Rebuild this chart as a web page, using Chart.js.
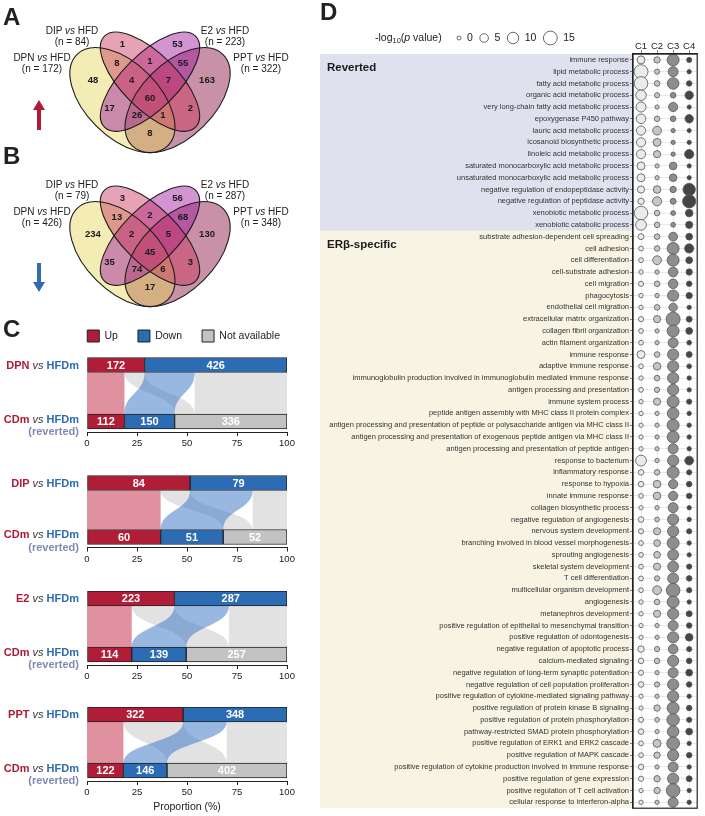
<!DOCTYPE html>
<html>
<head>
<meta charset="utf-8">
<script src="https://cdn.jsdelivr.net/npm/chart.js@4.4.1/dist/chart.umd.min.js"></script>
<style>
  body { margin: 0; background: #fff; font-family: 'Liberation Sans', Arial, sans-serif; color: #222; }
  #page { position: relative; width: 705px; height: 816px; overflow: hidden; }
  #page canvas, .t { position: absolute; }
  .letter { font-weight: bold; font-size: 24px; line-height: 24px; }
  .vt { font-size: 10px; line-height: 11px; text-align: center; width: 120px; white-space: nowrap; }
  .gl { left: 0; width: 79px; text-align: right; font-size: 11px; line-height: 13px; font-weight: bold; white-space: nowrap; }
  .red { color: #b01a36; }
  .blue { color: #2c6cb3; }
  .vs { font-style: italic; font-weight: normal; color: #333; }
  .rev { color: #8089b3; }
</style>
</head>
<body>
<div id="page">
  <canvas id="vennA" width="320" height="160" style="left:0;top:0"></canvas>
  <canvas id="vennB" width="320" height="160" style="left:0;top:154px"></canvas>
  <canvas id="bubble" width="385" height="816" style="left:320px;top:0"></canvas>
  <div class="t letter" style="left:3px;top:5px">A</div>
  <div class="t letter" style="left:3px;top:144px">B</div>
  <div class="t letter" style="left:3px;top:317px">C</div>
  <div class="t letter" style="left:320px;top:0">D</div>
</div>
<script>
// A / B: overlap of up- and down-regulated genes
const vennSets = ['DPN', 'DIP', 'E2', 'PPT'];
const vennUpTotals = [172, 84, 223, 322];
const vennDownTotals = [426, 79, 287, 348];
const vennRegions = ['DIP', 'E2', 'DPN', 'DPN&DIP', 'DIP&E2', 'E2&PPT', 'PPT', 'DPN&DIP&E2',
  'DIP&E2&PPT', 'DPN&DIP&E2&PPT', 'DPN&E2', 'DPN&E2&PPT', 'DPN&DIP&PPT', 'DIP&PPT', 'DPN&PPT'];
const vennUp = [1, 53, 48, 8, 1, 55, 163, 4, 7, 60, 17, 26, 1, 2, 8];
const vennDown = [3, 56, 234, 13, 2, 68, 130, 2, 5, 45, 35, 74, 6, 3, 17];

// C: reverted genes per treatment
const groupNames = ['DPN', 'DIP', 'E2', 'PPT'];
const upCounts = [172, 84, 223, 322];
const downCounts = [426, 79, 287, 348];
const revUpCounts = [112, 60, 114, 122];
const revDownCounts = [150, 51, 139, 146];
const naCounts = [336, 52, 257, 402];
const propTicks = [0, 25, 50, 75, 100];

// D: GO terms, -log10(p value) per cluster
const revTerms = ['immune response', 'lipid metabolic process', 'fatty acid metabolic process',
  'organic acid metabolic process', 'very long-chain fatty acid metabolic process', 'epoxygenase P450 pathway',
  'lauric acid metabolic process', 'icosanoid biosynthetic process', 'linoleic acid metabolic process',
  'saturated monocarboxylic acid metabolic process', 'unsaturated monocarboxylic acid metabolic process',
  'negative regulation of endopeptidase activity', 'negative regulation of peptidase activity',
  'xenobiotic metabolic process', 'xenobiotic catabolic process'];
const erbTerms = ['substrate adhesion-dependent cell spreading', 'cell adhesion', 'cell differentiation',
  'cell-substrate adhesion', 'cell migration', 'phagocytosis', 'endothelial cell migration',
  'extracellular matrix organization', 'collagen fibril organization', 'actin filament organization',
  'immune response', 'adaptive immune response',
  'immunoglobulin production involved in immunoglobulin mediated immune response',
  'antigen processing and presentation', 'immune system process',
  'peptide antigen assembly with MHC class II protein complex',
  'antigen processing and presentation of peptide or polysaccharide antigen via MHC class II',
  'antigen processing and presentation of exogenous peptide antigen via MHC class II',
  'antigen processing and presentation of peptide antigen', 'response to bacterium', 'inflammatory response',
  'response to hypoxia', 'innate immune response', 'collagen biosynthetic process',
  'negative regulation of angiogenesis', 'nervous system development',
  'branching involved in blood vessel morphogenesis', 'sprouting angiogenesis', 'skeletal system development',
  'T cell differentiation', 'multicellular organism development', 'angiogenesis', 'metanephros development',
  'positive regulation of epithelial to mesenchymal transition', 'positive regulation of odontogenesis',
  'negative regulation of apoptotic process', 'calcium-mediated signaling',
  'negative regulation of long-term synaptic potentiation', 'negative regulation of cell population proliferation',
  'positive regulation of cytokine-mediated signaling pathway', 'positive regulation of protein kinase B signaling',
  'positive regulation of protein phosphorylation', 'pathway-restricted SMAD protein phosphorylation',
  'positive regulation of ERK1 and ERK2 cascade', 'positive regulation of MAPK cascade',
  'positive regulation of cytokine production involved in immune response',
  'positive regulation of gene expression', 'positive regulation of T cell activation',
  'cellular response to interferon-alpha'];
const clusterNames = ['C1', 'C2', 'C3', 'C4'];
const logpC1 = [4.1, 15.5, 14.6, 8.3, 7.2, 6.6, 5.9, 5.9, 5.9, 4.1, 4.1, 3.1, 2.1, 14.6, 8.7,
  1.7, 0.6, 0.6, 0.3, 0.9, 0.3, 0.3, 0.9, 0.6, 0.6, 4.1, 0.6, 0.3, 0.6, 0.3, 0.3, 0.2, 0.2, 0.2, 8.7,
  1.3, 1.3, 0.6, 0.2, 1.3, 0.9, 0.6, 0.6, 0.6, 0.6, 0.6, 0.3, 0.3, 0.2, 0.2, 2.1, 1.3, 0.9, 1.3, 0.2,
  0.2, 0.9, 1.3, 0.6, 0.6, 1.3, 0.9, 0.2, 0.2];
const logpC2 = [2.1, 0.9, 1.3, 0.9, 0.2, 1.3, 5.3, 4.1, 3.1, 0.2, 0.2, 3.6, 5.9, 1.3, 1.3,
  1.3, 1.3, 5.3, 0.3, 1.3, 0.3, 1.3, 3.1, 0.2, 0.2, 1.3, 3.6, 1.3, 1.0, 3.1, 0.2, 0.2, 0.2, 0.2, 0.3,
  1.3, 3.6, 3.6, 0.3, 0.6, 3.1, 2.6, 2.6, 3.1, 1.0, 5.3, 1.3, 3.1, 0.2, 0.2, 1.0, 1.3, 0.2, 1.0, 0.2,
  2.1, 0.6, 0.2, 4.1, 2.1, 0.2, 2.1, 2.1, 0.2];
const logpC3 = [11, 7.2, 10.2, 1.3, 5.9, 1.3, 0.2, 0.2, 0.2, 3.6, 3.6, 2.1, 1.7, 0.6, 0.6,
  5.3, 11, 11, 6.6, 6.6, 9.4, 4.7, 15.5, 11, 7.2, 9.4, 9.4, 9.4, 9.4, 11, 10.2, 11, 11, 7.2, 9.4,
  11, 5.9, 5.9, 7.2, 9.4, 9.4, 11, 8.7, 8.7, 8.7, 14.6, 11, 9.4, 7.2, 9.4, 6.6, 9.4, 7.2, 9.4, 9.4,
  11, 11.9, 10.2, 12.7, 9.4, 7.2, 9.4, 14.6, 7.2];
const logpC4 = [0.9, 0.3, 1.3, 4.7, 0.2, 4.7, 0.2, 0.2, 5.9, 0.2, 0.2, 11.9, 13.6, 3.6, 3.1,
  2.6, 5.9, 2.6, 2.1, 1.3, 2.1, 0.3, 1.7, 2.6, 0.6, 1.7, 0.6, 0.3, 0.3, 1.0, 0.3, 0.3, 0.3, 0.3, 5.3,
  1.0, 1.3, 1.3, 0.3, 0.3, 1.0, 0.3, 0.3, 1.0, 1.3, 1.0, 0.3, 1.7, 1.3, 3.6, 1.0, 1.3, 2.6, 1.3, 0.3,
  1.3, 1.0, 2.6, 0.3, 1.3, 0.3, 1.7, 0.3, 0.3];
const sizeKeys = [0, 5, 10, 15];

const FONT = "'Liberation Sans', Arial, sans-serif";
Chart.defaults.font.family = FONT;
Chart.defaults.color = '#222';
Chart.defaults.animation = false;
Chart.defaults.responsive = false;
Chart.defaults.events = [];
Chart.defaults.plugins.legend.display = false;
Chart.defaults.plugins.tooltip.enabled = false;

const page = document.getElementById('page');
function addText(cls, style, html) {
  const d = document.createElement('div');
  d.className = 't ' + cls;
  d.setAttribute('style', style);
  d.innerHTML = html;
  page.appendChild(d);
}

// ---------- Venn diagrams (A, B) ----------
const VENN_PX = 184; // pixels per venn unit
const ellipses = {
  DPN: { x: 0.35, y: 0.47, a: 0.35, b: 0.20, rot: 135, fill: 'rgba(228,212,90,0.45)' },
  DIP: { x: 0.50, y: 0.57, a: 0.35, b: 0.15, rot: 135, fill: 'rgba(200,50,90,0.45)' },
  E2:  { x: 0.50, y: 0.57, a: 0.35, b: 0.15, rot: 45,  fill: 'rgba(155,20,155,0.45)' },
  PPT: { x: 0.65, y: 0.47, a: 0.35, b: 0.20, rot: 45,  fill: 'rgba(135,10,60,0.45)' }
};
const drawOrder = ['PPT', 'DPN', 'E2', 'DIP'];
const regionAnchor = {
  'DIP': [0.35, 0.772], 'E2': [0.65, 0.772], 'DPN': [0.19, 0.579], 'DPN&DIP': [0.32, 0.672],
  'DIP&E2': [0.5, 0.682], 'E2&PPT': [0.68, 0.672], 'PPT': [0.81, 0.579], 'DPN&DIP&E2': [0.40, 0.579],
  'DIP&E2&PPT': [0.60, 0.579], 'DPN&DIP&E2&PPT': [0.5, 0.481], 'DPN&E2': [0.28, 0.427],
  'DPN&E2&PPT': [0.43, 0.389], 'DPN&DIP&PPT': [0.57, 0.389], 'DIP&PPT': [0.72, 0.427], 'DPN&PPT': [0.5, 0.291]
};
const titleAnchor = { DPN: [42, 57], DIP: [72, 30], E2: [225, 30], PPT: [261, 57] };

function ellipsePath(ctx, xs, ys, e) {
  const cx = xs.getPixelForValue(e.x), cy = ys.getPixelForValue(e.y);
  const rx = xs.getPixelForValue(e.x + e.a) - cx;
  const ry = cy - ys.getPixelForValue(e.y + e.b);
  ctx.ellipse(cx, cy, rx, ry, -e.rot * Math.PI / 180, 0, Math.PI * 2);
}

function drawArrow(ctx, a) {
  const dir = Math.sign(a.to - a.from);
  const hb = a.to - dir * 10;
  ctx.beginPath();
  ctx.moveTo(a.x - 2, a.from);
  ctx.lineTo(a.x + 2, a.from);
  ctx.lineTo(a.x + 2, hb);
  ctx.lineTo(a.x + 6, hb);
  ctx.lineTo(a.x, a.to);
  ctx.lineTo(a.x - 6, hb);
  ctx.lineTo(a.x - 2, hb);
  ctx.closePath();
  ctx.fillStyle = a.color;
  ctx.fill();
}

function vennChart(id, counts, arrow) {
  const cv = document.getElementById(id);
  const xMin = 0.5 - 150 / VENN_PX;
  const yMax = 0.84 + 32 / VENN_PX;
  return new Chart(cv, {
    type: 'scatter',
    data: {
      datasets: [{
        data: vennRegions.map(k => ({ x: regionAnchor[k][0], y: regionAnchor[k][1] })),
        pointRadius: 0
      }]
    },
    options: {
      scales: {
        x: { display: false, min: xMin, max: xMin + cv.width / VENN_PX },
        y: { display: false, min: yMax - cv.height / VENN_PX, max: yMax }
      }
    },
    plugins: [{
      id: 'venn',
      beforeDatasetsDraw(chart) {
        const { ctx, scales: { x, y } } = chart;
        ctx.save();
        drawOrder.forEach(k => {
          ctx.beginPath();
          ellipsePath(ctx, x, y, ellipses[k]);
          ctx.fillStyle = ellipses[k].fill;
          ctx.fill();
        });
        ctx.strokeStyle = '#1c1c1c';
        ctx.lineWidth = 1.1;
        drawOrder.forEach(k => {
          ctx.beginPath();
          ellipsePath(ctx, x, y, ellipses[k]);
          ctx.stroke();
        });
        drawArrow(ctx, arrow);
        ctx.restore();
      },
      afterDatasetsDraw(chart) {
        const { ctx } = chart;
        const pts = chart.getDatasetMeta(0).data;
        ctx.save();
        ctx.font = 'bold 9.5px ' + FONT;
        ctx.fillStyle = '#1a1a1a';
        ctx.textAlign = 'center';
        ctx.textBaseline = 'middle';
        pts.forEach((p, i) => ctx.fillText(String(counts[i]), p.x, p.y));
        ctx.restore();
      }
    }]
  });
}

vennChart('vennA', vennUp, { x: 39, from: 130, to: 100, color: '#b01a36' });
vennChart('vennB', vennDown, { x: 39, from: 109, to: 138, color: '#2f6cb0' });

[[vennUpTotals, 0], [vennDownTotals, 154]].forEach(([totals, off]) => {
  vennSets.forEach((s, i) => {
    const [cx, cy] = titleAnchor[s];
    addText('vt', `left:${cx - 60}px;top:${cy + off - 5.5}px`,
      `${s} <i>vs</i> HFD<br>(n = ${totals[i]})`);
  });
});

// ---------- C: stacked proportion bars with ribbons ----------
const gTop = [365, 483, 598.5, 714.5];
const gGap = [56.5, 54, 56, 56];
const BAR = 15;
const AX_GAP = 10.5;
const colUp = '#b11c37', colDown = '#2b6cb4', colNA = '#c3c3c3';
// invisible side axes that reserve the margins around the plot area
const spacer = w => ({
  type: 'linear', display: true, offset: false,
  ticks: { display: false }, grid: { display: false }, border: { display: false },
  afterFit: s => { s.width = w; }
});

function groupChart(g) {
  const T = gTop[g], G = gGap[g];
  const A = T + G + AX_GAP;
  const up = upCounts[g], down = downCounts[g];
  const rUp = revUpCounts[g], rDown = revDownCounts[g], na = naCounts[g];
  const total = up + down;
  const pct = c => c / total * 100;
  const hasLegend = g === 0;
  const hasTitle = g === groupNames.length - 1;
  const axisH = hasTitle ? 32.3 : 22;
  const canvasTop = hasLegend ? 310 : Math.round(T) - 10;
  const areaTop = hasLegend ? canvasTop + 42 : canvasTop + 2;
  const H = Math.ceil(A + axisH) - canvasTop + 1;

  const cv = document.createElement('canvas');
  cv.width = 300;
  cv.height = H;
  cv.style.left = '0px';
  cv.style.top = canvasTop + 'px';
  page.insertBefore(cv, page.querySelector('.t'));

  const ribbons = [
    { from: [rUp, up], to: [rUp + rDown, rUp + rDown + up - rUp], color: 'rgba(190,190,190,0.45)' },
    { from: [up + rDown, total], to: [up + rDown, total], color: 'rgba(190,190,190,0.45)' },
    { from: [0, rUp], to: [0, rUp], color: 'rgba(199,55,80,0.55)' },
    { from: [up, up + rDown], to: [rUp, rUp + rDown], color: 'rgba(70,125,200,0.55)' }
  ];

  const yScale = spacer(87);
  Object.assign(yScale, { stacked: true, min: -AX_GAP / G, max: 1 + (T - areaTop) / G });

  new Chart(cv, {
    type: 'bar',
    data: {
      datasets: [
        { label: 'Up', data: [{ x: pct(up), y: 1 }, { x: pct(rUp), y: 0 }], counts: [up, rUp], backgroundColor: colUp },
        { label: 'Down', data: [{ x: pct(down), y: 1 }, { x: pct(rDown), y: 0 }], counts: [down, rDown], backgroundColor: colDown },
        { label: 'Not available', data: [{ x: pct(na), y: 0 }], counts: [na], backgroundColor: colNA }
      ]
    },
    options: {
      indexAxis: 'y',
      datasets: { bar: { barThickness: BAR, borderWidth: 1, borderColor: '#222', borderSkipped: false } },
      layout: { padding: { left: 0, right: 0, top: hasLegend ? 0 : 2, bottom: canvasTop + H - A - axisH } },
      plugins: {
        legend: {
          display: hasLegend, align: 'end',
          labels: { boxWidth: 12, boxHeight: 12, padding: 20, color: '#222', font: { size: 10.5 } }
        }
      },
      scales: {
        x: {
          type: 'linear', min: 0, max: 100, stacked: true, offset: false,
          afterBuildTicks: s => { s.ticks = propTicks.map(v => ({ value: v })); },
          afterFit: s => { s.height = axisH; },
          grid: { drawOnChartArea: false, tickLength: 4, tickColor: '#222', offset: false },
          border: { color: '#222', width: 1 },
          ticks: { color: '#222', font: { size: 9.5 }, padding: 2, maxRotation: 0 },
          title: { display: hasTitle, text: 'Proportion (%)', color: '#222', font: { size: 10.5 }, padding: 0 }
        },
        y: yScale,
        yRight: Object.assign(spacer(13), { position: 'right' })
      }
    },
    plugins: [{
      id: 'ribbons',
      beforeDatasetsDraw(chart) {
        const { ctx, scales: { x, y } } = chart;
        const yt = y.getPixelForValue(1) + BAR / 2;
        const yb = y.getPixelForValue(0) - BAR / 2;
        const ym = (yt + yb) / 2;
        const px = c => x.getPixelForValue(pct(c));
        ctx.save();
        ribbons.forEach(r => {
          const a0 = px(r.from[0]), a1 = px(r.from[1]), b0 = px(r.to[0]), b1 = px(r.to[1]);
          ctx.beginPath();
          ctx.moveTo(a0, yt);
          ctx.bezierCurveTo(a0, ym, b0, ym, b0, yb);
          ctx.lineTo(b1, yb);
          ctx.bezierCurveTo(b1, ym, a1, ym, a1, yt);
          ctx.closePath();
          ctx.fillStyle = r.color;
          ctx.fill();
        });
        ctx.restore();
      },
      afterDatasetsDraw(chart) {
        const { ctx } = chart;
        ctx.save();
        ctx.font = 'bold 11px ' + FONT;
        ctx.fillStyle = '#fff';
        ctx.textAlign = 'center';
        ctx.textBaseline = 'middle';
        chart.data.datasets.forEach((ds, d) => {
          chart.getDatasetMeta(d).data.forEach((el, i) => {
            const { x, base, y } = el.getProps(['x', 'base', 'y'], true);
            ctx.fillText(String(ds.counts[i]), (x + base) / 2, y + 0.5);
          });
        });
        ctx.restore();
      }
    }]
  });

  addText('gl', `top:${T - 6.5}px`,
    `<span class="red">${groupNames[g]}</span> <span class="vs">vs</span> <span class="blue">HFDm</span>`);
  addText('gl', `top:${T + G - 2.5 - 6.5}px`,
    `<span class="red">CDm</span> <span class="vs">vs</span> <span class="blue">HFDm</span>`);
  addText('gl', `top:${T + G + 10 - 6.5}px`, `<span class="rev">(reverted)</span>`);
}
groupNames.forEach((_, g) => groupChart(g));

// ---------- D: GO enrichment bubbles ----------
const allTerms = revTerms.concat(erbTerms);
const nRows = allTerms.length;
const logpCols = [logpC1, logpC2, logpC3, logpC4];
const clusterFill = ['#ebebeb', '#c6c6c6', '#8e8e8e', '#454545'];
const rad = v => Math.sqrt(4 + 2.9 * v);
const sections = [
  { label: 'Reverted', from: 0, to: revTerms.length, color: '#dfe2ee' },
  { label: 'ERβ-specific', from: revTerms.length, to: nRows, color: '#f7f4e3' }
];

new Chart(document.getElementById('bubble'), {
  type: 'bubble',
  data: {
    datasets: logpCols.map((vals, c) => ({
      label: clusterNames[c],
      data: vals.map((v, i) => ({ x: c, y: i, r: rad(v) })),
      backgroundColor: clusterFill[c],
      borderColor: '#555',
      borderWidth: 0.8
    }))
  },
  options: {
    layout: { padding: { right: 1, bottom: 4 } },
    scales: {
      x: {
        type: 'linear', position: 'top', min: -0.5, max: clusterNames.length - 0.5,
        afterBuildTicks: s => { s.ticks = clusterNames.map((_, i) => ({ value: i })); },
        afterFit: s => { s.height = 54; },
        ticks: { callback: v => clusterNames[v], color: '#222', font: { size: 9.5 }, padding: -2, maxRotation: 0, autoSkip: false },
        grid: { color: '#dadada', lineWidth: 0.6, tickColor: '#333', tickLength: 4 },
        border: { color: '#222', width: 1.2 }
      },
      y: {
        type: 'linear', reverse: true, min: -0.5, max: nRows - 0.5,
        afterBuildTicks: s => { s.ticks = allTerms.map((_, i) => ({ value: i })); },
        afterFit: s => { s.width = 313; },
        ticks: { callback: v => allTerms[v], autoSkip: false, color: '#333', font: { size: 7.5 }, padding: 1 },
        grid: { color: '#dadada', lineWidth: 0.6, tickColor: '#333', tickLength: 3 },
        border: { color: '#222', width: 1.2 }
      }
    }
  },
  plugins: [{
    id: 'bands',
    beforeDraw(chart) {
      const { ctx, chartArea: a, scales: { y } } = chart;
      ctx.save();
      sections.forEach(s => {
        const y0 = y.getPixelForValue(s.from - 0.5), y1 = y.getPixelForValue(s.to - 0.5);
        ctx.fillStyle = s.color;
        ctx.fillRect(0, y0, a.left, y1 - y0);
        ctx.fillStyle = '#1a1a1a';
        ctx.font = 'bold 11.5px ' + FONT;
        ctx.textBaseline = 'middle';
        ctx.fillText(s.label, 7, y0 + 14);
      });
      ctx.restore();
    },
    afterDraw(chart) {
      const { ctx, chartArea: a } = chart;
      ctx.save();
      ctx.strokeStyle = '#222';
      ctx.lineWidth = 1.2;
      ctx.strokeRect(a.left, a.top, a.right - a.left, a.bottom - a.top);

      // size legend
      const ly = 38;
      let cx = 55;
      ctx.fillStyle = '#222';
      ctx.textAlign = 'left';
      ctx.textBaseline = 'middle';
      const put = (txt, font, dy) => {
        ctx.font = font + FONT;
        ctx.fillText(txt, cx, ly + dy);
        cx += ctx.measureText(txt).width;
      };
      put('-log', '10.5px ', 0);
      put('10', '7.5px ', 3);
      put('(', '10.5px ', 0);
      put('p', 'italic 10.5px ', 0);
      put(' value)', '10.5px ', 0);
      cx = 137;
      sizeKeys.forEach(k => {
        const r = rad(k);
        ctx.beginPath();
        ctx.arc(cx + r, ly, r, 0, Math.PI * 2);
        ctx.fillStyle = '#fff';
        ctx.fill();
        ctx.strokeStyle = '#444';
        ctx.lineWidth = 0.8;
        ctx.stroke();
        ctx.fillStyle = '#222';
        ctx.font = '10.5px ' + FONT;
        const tx = cx + 2 * r + 6;
        ctx.fillText(String(k), tx, ly);
        cx = tx + ctx.measureText(String(k)).width + 7;
      });
      ctx.restore();
    }
  }]
});
</script>
</body>
</html>
